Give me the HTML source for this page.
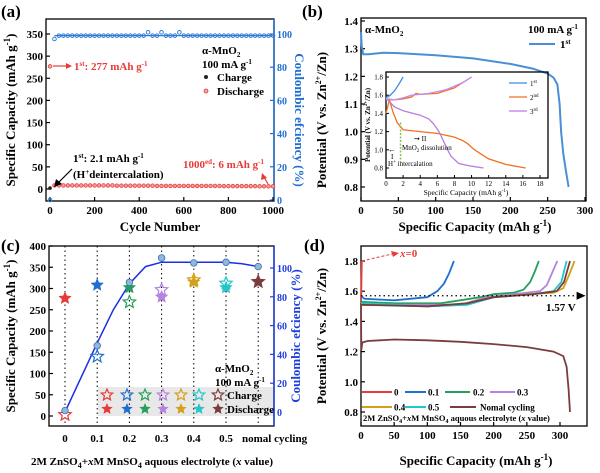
<!DOCTYPE html>
<html><head><meta charset="utf-8"><style>
html,body{margin:0;padding:0;background:#fff}
svg{display:block;font-family:"Liberation Serif",serif;font-weight:bold}
</style></head><body>
<svg id="fig" width="600" height="473" viewBox="0 0 600 473" xmlns="http://www.w3.org/2000/svg">
<text x="1" y="17" font-size="17">(a)</text>
<text x="302" y="17" font-size="17">(b)</text>
<text x="1" y="251" font-size="17">(c)</text>
<text x="304" y="251" font-size="17">(d)</text>
<g id="A"></g>
<g id="B"></g>
<g id="C"></g>
<g id="D"></g>
</svg>
<script>
const aCycles=[0,20,40,60,80,100,120,140,160,180,200,220,240,260,280,300,320,340,360,380,400,420,440,460,480,500,520,540,560,580,600,620,640,660,680,700,720,740,760,780,800,820,840,860,880,900,920,940,960,980,1000];
const aCE=[0,97,99,99,99,99,99,99,99,99,99,99,99,99,99,99,99,99,99,99,99,99,101,99,99,101,99,99,99,101,99,99,99,99,99,99,99,99,99,99,99,99,99,99,99,99,99,99,99,99,99];
const aCharge=[2.1,8,8,8,8,8,8,8,8,8,8,8,8,8,8,7.5,7.5,7.5,7.5,7.5,7.5,7.5,7.5,7.5,7,7,7,7,7,7,7,7,7,7,7,7,7,7,7,6.5,6.5,6.5,6.5,6.5,6.5,6.5,6.5,6,6,6,6];
const aDischarge=[277,8,8,8,8,8,8,8,8,8,8,8,8,8,8,7.5,7.5,7.5,7.5,7.5,7.5,7.5,7.5,7.5,7,7,7,7,7,7,7,7,7,7,7,7,7,7,7,6.5,6.5,6.5,6.5,6.5,6.5,6.5,6.5,6,6,6,6];
const aYTicks=[0,50,100,150,200,250,300,350];
const aXTicks=[0,200,400,600,800,1000];
const aRTicks=[0,20,40,60,80,100];
const bCap=[0,1,3,10,30,50,100,150,200,230,250,258,263,266,268,271,275,278];
const bV=[1.36,1.31,1.28,1.28,1.285,1.284,1.276,1.265,1.245,1.228,1.21,1.195,1.17,1.1,1.0,0.92,0.85,0.8];
const bYTicks=[0.8,0.9,1.0,1.1,1.2,1.3,1.4];
const bXTicks=[0,50,100,150,200,250,300];
const inCap1=[0,0.5,1,1.5,2];
const inV1=[1.57,1.6,1.65,1.72,1.8];
const inCap2d=[0,0.4,0.8,1.3,2,4,6,7,8,9,9.5,10.2,11,12,14,16.3];
const inV2d=[1.4,1.55,1.42,1.3,1.22,1.2,1.18,1.16,1.14,1.1,1.07,1.01,0.96,0.9,0.84,0.8];
const inCap2c=[0,1,2,3,3.5,4,6,8,10];
const inV2c=[1.55,1.55,1.56,1.58,1.62,1.61,1.62,1.68,1.8];
const inCap3d=[0,0.5,1,2,4,5,5.6,6.2,6.7,7.2,7.6,8.5,10,11.4];
const inV3d=[1.57,1.52,1.47,1.43,1.38,1.34,1.28,1.2,1.1,1.0,0.93,0.85,0.82,0.8];
const inCap3c=[0,1,2,3,5,7,9,10];
const inV3c=[1.56,1.55,1.57,1.6,1.62,1.66,1.74,1.8];
const inXTicks=[0,2,4,6,8,10,12,14,16,18];
const inYTicks=[0.8,1.0,1.2,1.4,1.6,1.8];
const cCats=["0","0.1","0.2","0.3","0.4","0.5","nomal cycling"];
const cCharge=[3,140,268,297,320,312,316];
const cDischarge=[277,308,302,280,315,302,316];
const cCE=[1,46,90,107,103.5,104,101];
const cFitX=[0,0.5,1,1.5,2,2.5,3,3.5,4,4.5,5,5.5,6];
const cFitY=[0,24,48,71,89,101,104,104,104,104,104,103,101];
const cYTicks=[0,50,100,150,200,250,300,350,400];
const cRTicks=[0,20,40,60,80,100];
const cColors=["#e83a36","#1f6fd1","#25a05c","#b482e0","#d4a017","#22c6cb","#7a3d3d"];
const dSeriesNames=["0","0.1","0.2","0.3","0.4","0.5","Nomal cycling"];
const dCaps=[
 [0,0.4,0.8,1.2],
 [0,5,50,100,115,125,133,140],
 [0,50,120,180,200,230,245,255,262,268],
 [0,50,150,190,230,270,280,288,296],
 [0,100,150,200,250,290,305,313,322],
 [0,100,160,200,260,290,302,310],
 [0,100,160,200,260,295,306,315]];
const dVs=[
 [1.52,1.6,1.7,1.8],
 [1.57,1.55,1.54,1.56,1.6,1.65,1.72,1.8],
 [1.53,1.52,1.52,1.56,1.58,1.59,1.61,1.66,1.73,1.8],
 [1.52,1.51,1.51,1.56,1.58,1.6,1.64,1.72,1.8],
 [1.51,1.5,1.51,1.56,1.58,1.59,1.62,1.7,1.8],
 [1.52,1.5,1.51,1.56,1.58,1.6,1.66,1.8],
 [1.51,1.5,1.52,1.56,1.58,1.6,1.66,1.8]];
const dDisCap=[0,0.5,2,10,50,100,150,200,250,290,305,310,313,315];
const dDisV=[1.5,1.21,1.26,1.27,1.28,1.275,1.265,1.25,1.23,1.2,1.17,1.1,0.95,0.8];
const dYTicks=[0.8,1.0,1.2,1.4,1.6,1.8];
const dXTicks=[0,50,100,150,200,250,300];

const NS="http://www.w3.org/2000/svg";
function mk(parent,tag,attrs){const e=document.createElementNS(NS,tag);for(const k in attrs)e.setAttribute(k,attrs[k]);parent.appendChild(e);return e;}
function lin(d0,d1,r0,r1){return v=>r0+(v-d0)/(d1-d0)*(r1-r0);}
function pathD(xs,ys,sx,sy){return xs.map((x,i)=>(i?"L":"M")+sx(x).toFixed(1)+","+sy(ys[i]).toFixed(1)).join("");}
function star(cx,cy,r){let p=[];for(let i=0;i<10;i++){const a=-Math.PI/2+i*Math.PI/5;const rr=i%2?r*0.45:r;p.push((cx+rr*Math.cos(a)).toFixed(1)+","+(cy+rr*Math.sin(a)).toFixed(1));}return p.join(" ");}
function box(g,x0,y0,x1,y1,name){const r=mk(g,"rect",{x:x0,y:y0,width:x1-x0,height:y1-y0,fill:"none",stroke:"#000","stroke-width":1.3});return r;}
function txt(g,x,y,s,size,attrs,name){const t=mk(g,"text",Object.assign({x:x,y:y,"font-size":size},attrs||{}));t.innerHTML=s;return t;}
function yTicks(g,ticks,sy,x,fmt,side,color,size,name){ticks.forEach(v=>{const y=sy(v);
 mk(g,"line",{x1:x,x2:side<0?x+4:x-4,y1:y,y2:y,stroke:color,"stroke-width":1.2});
 txt(g,side<0?x-3:x+3,y+4,fmt(v),size,{"text-anchor":side<0?"end":"start",fill:color},name);});}
function xTicks(g,ticks,sx,y,fmt,size,name){ticks.forEach(v=>{const x=sx(v);mk(g,"line",{x1:x,x2:x,y1:y,y2:y-4,stroke:"#000","stroke-width":1.2});txt(g,x,y+13,fmt(v),size,{"text-anchor":"middle"},name);});}
function rotTitle(g,x,y,s,size,color,name,deg){return txt(g,x,y,s,size,{"text-anchor":"middle",fill:color,transform:`rotate(${deg||-90} ${x} ${y})`},name);}

(function(){
 const g=document.getElementById("A");
 const sx=lin(0,1000,50,273), sy=lin(0,350,189,34), sr=lin(0,100,200,34);
 box(g,46,19,274,201,"plot-area-a");
 mk(g,"line",{x1:274,y1:19,x2:274,y2:201,stroke:"#1f6fd1","stroke-width":1.5});
 yTicks(g,aYTicks,sy,46,v=>v,-1,"#000",11,"y-tick-label");
 yTicks(g,aRTicks,sr,274,v=>v,1,"#1f6fd1",10,"right-tick-label");
 xTicks(g,aXTicks,sx,201,v=>v,11,"x-tick-label");
 aCycles.forEach((c,i)=>{
  const p=mk(g,"circle",{cx:sx(c),cy:sr(aCE[i]),r:1.8,fill:"none",stroke:"#2f7bd6","stroke-width":1});
  
  
  const q=mk(g,"circle",{cx:sx(c),cy:sy(aDischarge[i]),r:1.8,fill:"#f3a4a4",stroke:"#e83a36","stroke-width":0.8});
  
  
  const k=mk(g,"circle",{cx:sx(c),cy:sy(aCharge[i]),r:1.2,fill:"none",stroke:"#e88","stroke-width":0.5});
  
  
 });
 mk(g,"line",{x1:sx(20),x2:sx(1000),y1:sr(99),y2:sr(99),stroke:"#2f7bd6","stroke-width":1.2});
 mk(g,"circle",{cx:sx(0),cy:sy(2.1),r:1.8,fill:"#222"});
 rotTitle(g,15,110,"Specific Capacity (mAh g<tspan dy='-5' font-size='9'>-1</tspan><tspan dy='5'>)</tspan>",13,"#000","y-axis-title");
 rotTitle(g,295,120,"Coulombic efciency (%)",13,"#1f6fd1","right-axis-title",90);
 txt(g,160,231,"Cycle Number",13,{"text-anchor":"middle"},"x-axis-title");
 txt(g,74,70,"1<tspan dy='-4' font-size='7'>st</tspan><tspan dy='4'>: 277 mAh g</tspan><tspan dy='-4' font-size='7'>-1</tspan>",11,{fill:"#e83a36"},"annotation-first-discharge");
 mk(g,"line",{x1:53,y1:66,x2:68,y2:66,stroke:"#e83a36","stroke-width":1.2});
 mk(g,"polygon",{points:"72,66 66,63 66,69",fill:"#e83a36"});
 txt(g,202,54,"α-MnO<tspan dy='3' font-size='7'>2</tspan>",11,{},"legend-material");
 txt(g,202,68,"100 mA g<tspan dy='-4' font-size='7'>-1</tspan>",11,{},"legend-current");
 mk(g,"circle",{cx:206,cy:77,r:2,fill:"#222"});
 txt(g,217,81,"Charge",11,{},"legend-charge");
 mk(g,"circle",{cx:206,cy:91,r:2,fill:"#f3a4a4",stroke:"#e83a36","stroke-width":0.8});
 txt(g,217,95,"Discharge",11,{},"legend-discharge");
 txt(g,73,162,"1<tspan dy='-4' font-size='7'>st</tspan><tspan dy='4'>: 2.1 mAh g</tspan><tspan dy='-4' font-size='7'>-1</tspan>",11,{},"annotation-first-charge");
 txt(g,73,178,"(H<tspan dy='-4' font-size='7'>+</tspan><tspan dy='4'>deintercalation)</tspan>",11,{},"annotation-h-deintercalation");
 mk(g,"line",{x1:72,y1:169,x2:58,y2:183,stroke:"#000","stroke-width":1.2});
 mk(g,"polygon",{points:"54,187 56,179 62,184",fill:"#000"});
 txt(g,183,168,"1000<tspan dy='-4' font-size='7'>ed</tspan><tspan dy='4'>: 6 mAh g</tspan><tspan dy='-4' font-size='7'>-1</tspan>",11,{fill:"#e83a36"},"annotation-1000th");
 mk(g,"line",{x1:268,y1:184,x2:264,y2:177,stroke:"#e83a36","stroke-width":1.2});
 mk(g,"polygon",{points:"262,173 261,180 267,178",fill:"#e83a36"});
})();

(function(){
 const g=document.getElementById("B");
 const sx=lin(0,300,361,585), sy=lin(0.8,1.4,187,21);
 box(g,361,18,586,201,"plot-area-b");
 yTicks(g,bYTicks,sy,361,v=>v.toFixed(1),-1,"#000",11,"y-tick-label");
 xTicks(g,bXTicks,sx,201,v=>v,11,"x-tick-label");
 const p=mk(g,"path",{d:pathD(bCap,bV,sx,sy),fill:"none",stroke:"#4a8fd6","stroke-width":2});
 
 
 rotTitle(g,326,120,"Potential (V vs. Zn<tspan dy='-5' font-size='8'>2+</tspan><tspan dy='5'>/Zn)</tspan>",13,"#000","y-axis-title");
 txt(g,475,231,"Specific Capacity (mAh g<tspan dy='-5' font-size='9'>-1</tspan><tspan dy='5'>)</tspan>",13,{"text-anchor":"middle"},"x-axis-title");
 txt(g,365,33,"α-MnO<tspan dy='3' font-size='7'>2</tspan>",11,{},"material-label");
 txt(g,528,33,"100 mA g<tspan dy='-4' font-size='7'>-1</tspan>",11,{},"current-label");
 mk(g,"line",{x1:529,x2:555,y1:44,y2:44,stroke:"#4a8fd6","stroke-width":2});
 txt(g,560,48,"1<tspan dy='-4' font-size='7'>st</tspan>",11,{},"legend-first");
 const ix=lin(0,18,386,540), iy=lin(0.8,1.8,168,77);
 box(g,386,72,548,178,"inset-plot-area");
 inYTicks.forEach(v=>{mk(g,"line",{x1:386,x2:389,y1:iy(v),y2:iy(v),stroke:"#000"});txt(g,383,iy(v)+2.5,v.toFixed(1),7,{"text-anchor":"end","font-weight":"normal"},"inset-y-tick");});
 inXTicks.forEach(v=>{mk(g,"line",{x1:ix(v),x2:ix(v),y1:178,y2:175,stroke:"#000"});txt(g,ix(v),186,v,7,{"text-anchor":"middle","font-weight":"normal"},"inset-x-tick");});
 const curves=[[inCap1,inV1,"#3b8de0","inset-first-curve"],[inCap2d,inV2d,"#f07020","inset-second-discharge"],[inCap2c,inV2c,"#f07020","inset-second-charge"],[inCap3d,inV3d,"#b77fe0","inset-third-discharge"],[inCap3c,inV3c,"#c08ff0","inset-third-charge"]];
 curves.forEach(c=>{const e=mk(g,"path",{d:pathD(c[0],c[1],ix,iy),fill:"none",stroke:c[2],"stroke-width":1.3});
  
  });
 mk(g,"line",{x1:ix(1.7),x2:ix(1.7),y1:iy(1.3),y2:iy(0.86),stroke:"#8bc34a","stroke-width":1.5,"stroke-dasharray":"2,1.5"});
 txt(g,466,195,"Specific Capacity (mAh g<tspan dy='-3' font-size='5'>-1</tspan><tspan dy='3'>)</tspan>",7.5,{"text-anchor":"middle","font-weight":"normal"},"inset-x-title");
 rotTitle(g,370,125,"Potential (V vs. Zn<tspan dy='-3' font-size='5'>2+</tspan><tspan dy='3'>/Zn)</tspan>",7,"#000","inset-y-title");
 [["1<tspan dy='-3' font-size='5'>st</tspan>","#3b8de0",83],["2<tspan dy='-3' font-size='5'>nd</tspan>","#f07020",97],["3<tspan dy='-3' font-size='5'>rd</tspan>","#b77fe0",111]].forEach((l,i)=>{
  mk(g,"line",{x1:509,x2:527,y1:l[2],y2:l[2],stroke:l[1],"stroke-width":1.3});
  txt(g,530,l[2]+3,l[0],7,{"font-weight":"normal"},"inset-legend-entry");});
 txt(g,414,141,"➞ II",7,{"font-weight":"normal"},"inset-region-ii");
 txt(g,402,150,"MnO<tspan dy='2' font-size='5'>2</tspan><tspan dy='-2'> dissolution</tspan>",7,{"font-weight":"normal"},"inset-dissolution");
 txt(g,388,152,"←",8,{"font-weight":"normal"},"inset-arrow");
 txt(g,391,159,"I",7,{"font-weight":"normal"},"inset-region-i");
 txt(g,388,166,"H<tspan dy='-3' font-size='5'>+</tspan><tspan dy='3'> intercalation</tspan>",7,{"font-weight":"normal"},"inset-h-intercalation");
})();

(function(){
 const g=document.getElementById("C");
 const sx=i=>65+i*32.2, sy=lin(0,400,416,246), sr=lin(0,100,412,268);
 mk(g,"rect",{x:98,y:387,width:176,height:29,fill:"#e8e8e8"});
 box(g,49,246,274,426,"plot-area-c");
 mk(g,"line",{x1:274,y1:246,x2:274,y2:426,stroke:"#1f3fe0","stroke-width":1.5});
 cCats.forEach((c,i)=>{mk(g,"line",{x1:sx(i),x2:sx(i),y1:246,y2:426,stroke:"#000","stroke-dasharray":"1.5,3"});});
 yTicks(g,cYTicks,sy,49,v=>v,-1,"#000",11,"y-tick-label");
 yTicks(g,cRTicks,sr,274,v=>v,1,"#1f3fe0",10,"right-tick-label");
 cCats.forEach((c,i)=>{
  if(c.length>3) txt(g,242,442,c,11,{"text-anchor":"start"},"x-tick-label");
  else txt(g,sx(i),442,c,11,{"text-anchor":"middle"},"x-tick-label");});
 const fx=v=>65+v*32.2;
 const fit=mk(g,"path",{d:pathD(cFitX,cFitY,fx,sr),fill:"none",stroke:"#1a2ee6","stroke-width":1.5});
 
 
 cCats.forEach((c,i)=>{
  const d=mk(g,"polygon",{points:star(sx(i),sy(cDischarge[i]),6.5),fill:cColors[i],stroke:cColors[i],"stroke-width":0.5});
  
  
  const ch=mk(g,"polygon",{points:star(sx(i),sy(cCharge[i]),6.5),fill:"none",stroke:cColors[i],"stroke-width":1.2});
  
  
  const ce=mk(g,"circle",{cx:sx(i),cy:sr(cCE[i]),r:3.3,fill:"#8fb8e0",stroke:"#3d6fa8","stroke-width":0.8});
  
  
 });
 const lx=[107,127,145,163,181,199,218];
 lx.forEach((x,i)=>{mk(g,"polygon",{points:star(x,395,6),fill:"none",stroke:cColors[i],"stroke-width":1.2});mk(g,"polygon",{points:star(x,409,6),fill:cColors[i]});});
 txt(g,227,399,"Charge",11,{},"legend-charge");
 txt(g,227,413,"Discharge",11,{},"legend-discharge");
 txt(g,215,372,"α-MnO<tspan dy='3' font-size='7'>2</tspan>",11,{},"material-label");
 txt(g,215,386,"100 mA g<tspan dy='-4' font-size='7'>-1</tspan>",11,{},"current-label");
 rotTitle(g,15,336,"Specific Capacity (mAh g<tspan dy='-5' font-size='9'>-1</tspan><tspan dy='5'>)</tspan>",13,"#000","y-axis-title");
 rotTitle(g,300,336,"Coulombic efciency (%)",13,"#1f3fe0","right-axis-title",-90);
 txt(g,152,465,"2M ZnSO<tspan dy='3' font-size='8'>4</tspan><tspan dy='-3'>+</tspan><tspan font-style='italic'>x</tspan>M MnSO<tspan dy='3' font-size='8'>4</tspan><tspan dy='-3'> aquous electrolyte (</tspan><tspan font-style='italic'>x</tspan> value)",11,{"text-anchor":"middle"},"x-axis-title");
})();

(function(){
 const g=document.getElementById("D");
 const sx=lin(0,300,361,560), sy=lin(0.8,1.8,412,261);
 box(g,361,246,587,426,"plot-area-d");
 yTicks(g,dYTicks,sy,361,v=>v.toFixed(1),-1,"#000",11,"y-tick-label");
 xTicks(g,dXTicks,sx,426,v=>v,11,"x-tick-label");
 dCaps.forEach((xs,i)=>{const e=mk(g,"path",{d:pathD(xs,dVs[i],sx,sy),fill:"none",stroke:cColors[i],"stroke-width":1.8});
  
  });
 const dd=mk(g,"path",{d:pathD(dDisCap,dDisV,sx,sy),fill:"none",stroke:"#7a3d3d","stroke-width":1.8});
 
 
 mk(g,"line",{x1:sx(0),x2:sx(325),y1:sy(1.57),y2:sy(1.57),stroke:"#000","stroke-width":1.3,"stroke-dasharray":"1.5,3"});
 mk(g,"polygon",{points:`${sx(325)},${sy(1.57)-4} ${sx(325)+9},${sy(1.57)} ${sx(325)},${sy(1.57)+4}`,fill:"#000"});
 txt(g,546,311,"1.57 V",11,{},"reference-voltage-label");
 mk(g,"line",{x1:362,y1:261,x2:392,y2:254,stroke:"#e83a36","stroke-width":1,"stroke-dasharray":"3,2"});
 mk(g,"polygon",{points:"399,253 391,251 393,257",fill:"#e83a36"});
 txt(g,400,257,"<tspan font-style='italic'>x</tspan>=0",11,{fill:"#e83a36"},"x0-annotation");
 const leg=[[362,392,"0",394,392],[405,426,"0.1",428,392],[445,470,"0.2",473,392],[490,515,"0.3",517,392],[362,392,"0.4",394,407],[405,426,"0.5",428,407],[450,476,"Nomal cycling",480,407]];
 leg.forEach((l,i)=>{mk(g,"line",{x1:l[0],x2:l[1],y1:l[4],y2:l[4],stroke:cColors[i],"stroke-width":2});txt(g,l[3],l[4]+3.5,l[2],9,{},"legend-entry");});
 txt(g,363,421,"2M ZnSO<tspan dy='2' font-size='6'>4</tspan><tspan dy='-2'>+</tspan><tspan font-style='italic'>x</tspan>M MnSO<tspan dy='2' font-size='6'>4</tspan><tspan dy='-2'> aquous electrolyte (</tspan><tspan font-style='italic'>x</tspan> value)",8.5,{},"legend-electrolyte-note");
 rotTitle(g,326,336,"Potential (V vs. Zn<tspan dy='-5' font-size='8'>2+</tspan><tspan dy='5'>/Zn)</tspan>",13,"#000","y-axis-title");
 txt(g,476,465,"Specific Capacity (mAh g<tspan dy='-5' font-size='9'>-1</tspan><tspan dy='5'>)</tspan>",13,{"text-anchor":"middle"},"x-axis-title");
})();
</script>
</body></html>
